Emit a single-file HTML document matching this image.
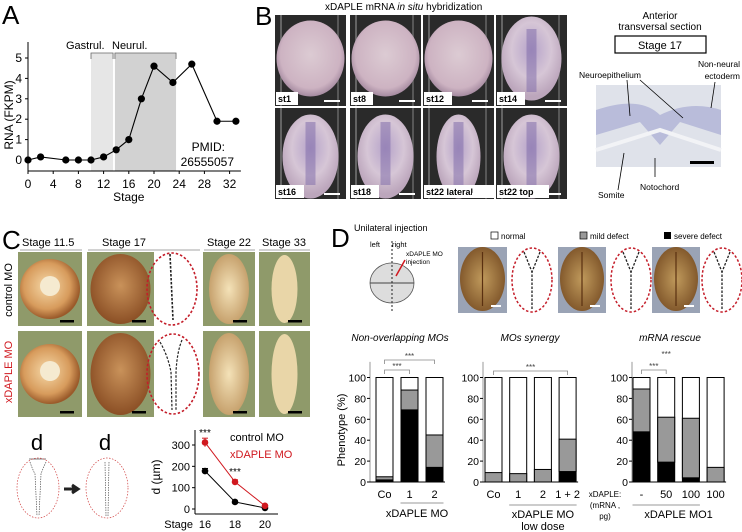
<!DOCTYPE html>
<html><head><meta charset="utf-8"><style>
html,body{margin:0;padding:0;background:#fff}
svg{display:block;font-family:"Liberation Sans",Arial,sans-serif}
</style></head><body>
<svg id="fig" width="742" height="532" viewBox="0 0 742 532">
<defs>
<radialGradient id="pinkEgg" cx="50%" cy="45%" r="55%"><stop offset="0" stop-color="#dccbd3"/><stop offset="0.8" stop-color="#cdb3c2"/><stop offset="1" stop-color="#a58aa0"/></radialGradient>
<radialGradient id="purpEgg" cx="50%" cy="40%" r="55%"><stop offset="0" stop-color="#b5a2c9"/><stop offset="0.6" stop-color="#d6c6d6"/><stop offset="1" stop-color="#bca6bc"/></radialGradient>
<radialGradient id="orEgg" cx="45%" cy="45%" r="55%"><stop offset="0" stop-color="#f6d9a8"/><stop offset="0.7" stop-color="#d79b5c"/><stop offset="1" stop-color="#9a5a2a"/></radialGradient>
<radialGradient id="brEgg" cx="50%" cy="45%" r="55%"><stop offset="0" stop-color="#c9925a"/><stop offset="1" stop-color="#8b4f25"/></radialGradient>
<radialGradient id="tanEgg" cx="50%" cy="50%" r="55%"><stop offset="0" stop-color="#f4e2b8"/><stop offset="1" stop-color="#c29b66"/></radialGradient>
<radialGradient id="dEgg" cx="50%" cy="50%" r="55%"><stop offset="0" stop-color="#c09a5c"/><stop offset="1" stop-color="#7d5328"/></radialGradient>
</defs>

<g>
<text x="2" y="24" font-size="26">A</text>
<g id="chartA"></g>
</g>

<g>
<text x="255" y="25" font-size="26">B</text>
<text x="325" y="10" font-size="10">xDAPLE mRNA <tspan font-style="italic">in situ</tspan> hybridization</text>
<g id="bPhotos"></g>
<text x="660" y="19" font-size="10" text-anchor="middle">Anterior</text>
<text x="660" y="30" font-size="10" text-anchor="middle">transversal section</text>
<rect x="615" y="36" width="91" height="17" fill="#fff" stroke="#000" stroke-width="1.2"/>
<text x="660" y="49" font-size="11" text-anchor="middle">Stage 17</text>
<text x="579" y="78" font-size="8.5">Neuroepithelium</text>
<text x="740" y="67" font-size="8.5" text-anchor="end">Non-neural</text>
<text x="740" y="79" font-size="8.5" text-anchor="end">ectoderm</text>
<rect x="596" y="85" width="125" height="82" fill="#dfe2ea"/>
<path d="M596 110 Q640 95 660 115 Q690 100 721 110 L721 135 L680 122 L660 145 L640 122 L596 135 Z" fill="#a8acd3" opacity="0.7"/>
<path d="M596 150 L660 130 L721 150" stroke="#f2f3f6" stroke-width="4" fill="none"/>
<rect x="690" y="161" width="24" height="3" fill="#000"/>
<g stroke="#000" stroke-width="0.8"><line x1="627" y1="80" x2="630" y2="116"/><line x1="640" y1="80" x2="683" y2="118"/><line x1="715" y1="82" x2="711" y2="108"/><line x1="624" y1="153" x2="618" y2="190"/><line x1="655" y1="158" x2="655" y2="177"/></g>
<text x="598" y="198" font-size="8.5">Somite</text>
<text x="640" y="190" font-size="8.5">Notochord</text>
</g>

<g>
<text x="2" y="249" font-size="26">C</text>
<text x="22" y="246" font-size="11">Stage 11.5</text>
<text x="102" y="246" font-size="11">Stage 17</text>
<text x="207" y="246" font-size="11">Stage 22</text>
<text x="262" y="246" font-size="11">Stage 33</text>
<g stroke="#888" stroke-width="0.8"><line x1="20" y1="250" x2="82" y2="250"/><line x1="88" y1="250" x2="200" y2="250"/><line x1="204" y1="250" x2="255" y2="250"/><line x1="259" y1="250" x2="310" y2="250"/></g>
<text transform="translate(12,290) rotate(-90)" font-size="11" text-anchor="middle">control MO</text>
<text transform="translate(12,372) rotate(-90)" font-size="11" text-anchor="middle" fill="#d0181f">xDAPLE MO</text>
<g id="cPhotos"></g>
<text x="37" y="450" font-size="22" text-anchor="middle">d</text>
<text x="105" y="450" font-size="22" text-anchor="middle">d</text>
<line x1="29" y1="459" x2="46" y2="459" stroke="#555" stroke-width="0.8"/>
<ellipse cx="38" cy="488" rx="21" ry="30" fill="none" stroke="#d04040" stroke-width="0.7" stroke-dasharray="1.5,1.5"/>
<path d="M30 462 Q32 468 35 474 L37 516 M46 462 Q43 468 41 474 L39 516" fill="none" stroke="#555" stroke-width="0.7" stroke-dasharray="1.5,1"/>
<path d="M64 489 L76 489 M72 485 L78 489 L72 493" stroke="#222" stroke-width="3" fill="#222"/>
<ellipse cx="107" cy="488" rx="21" ry="30" fill="none" stroke="#d04040" stroke-width="0.7" stroke-dasharray="1.5,1.5"/>
<path d="M105 462 L106 516 M109 462 L108 516" fill="none" stroke="#555" stroke-width="0.7" stroke-dasharray="1.5,1"/>
<g id="chartC"></g>
</g>

<g>
<text x="331" y="247" font-size="26">D</text>
<text x="354" y="231" font-size="9">Unilateral injection</text>
<text x="370" y="247" font-size="7.5">left</text>
<text x="392" y="247" font-size="7.5">right</text>
<text x="406" y="256" font-size="6.5">xDAPLE MO</text>
<text x="406" y="264" font-size="6.5">injection</text>
<ellipse cx="392" cy="283" rx="22" ry="20" fill="#ddd" stroke="#555" stroke-width="0.8"/>
<line x1="370" y1="283" x2="414" y2="283" stroke="#444"/>
<line x1="392" y1="241" x2="392" y2="312" stroke="#222" stroke-dasharray="2,2"/>
<line x1="405" y1="260" x2="396" y2="276" stroke="#d0181f" stroke-width="1.5"/>
<rect x="491" y="232" width="7" height="7" fill="#fff" stroke="#000" stroke-width="0.7"/>
<text x="501" y="239" font-size="8">normal</text>
<rect x="580" y="232" width="7" height="7" fill="#999" stroke="#000" stroke-width="0.7"/>
<text x="590" y="239" font-size="8">mild defect</text>
<rect x="664" y="232" width="7" height="7" fill="#000"/>
<text x="674" y="239" font-size="8">severe defect</text>
<g id="dPhotos"></g>
<text x="400" y="341" font-size="10" font-style="italic" text-anchor="middle">Non-overlapping MOs</text>
<text x="530" y="341" font-size="10" font-style="italic" text-anchor="middle">MOs synergy</text>
<text x="670" y="341" font-size="10" font-style="italic" text-anchor="middle">mRNA rescue</text>
<text transform="translate(345,430) rotate(-90)" font-size="11" text-anchor="middle">Phenotype (%)</text>
<g id="chartD"></g>
</g>

<script>
const NS="http://www.w3.org/2000/svg";
function mk(parent,tag,attrs,text){const e=document.createElementNS(NS,tag);for(const k in attrs)e.setAttribute(k,attrs[k]);if(text!==undefined)e.textContent=text;parent.appendChild(e);return e;}

const aStages=[0,2,6,8,10,12,14,16,18,20,23,26,30,33];
const aRNA=[0,0.15,0,0,0,0.15,0.5,1,3,4.6,3.8,4.7,1.9,1.9];
const aYTicks=[0,1,2,3,4,5];
const aXTicks=[0,4,8,12,16,20,24,28,32];
(function(){
  const g=document.getElementById('chartA');
  const X=s=>28+s*6.3, Y=v=>160-v*20.4;
  mk(g,'rect',{x:X(10),y:53,width:X(13.5)-X(10),height:118,fill:'#e6e6e6'});
  mk(g,'rect',{x:X(13.8),y:53,width:X(23.5)-X(13.8),height:118,fill:'#d2d2d2'});
  mk(g,'path',{d:`M${X(10)} 59 V53 H${X(13.5)} V59 M${X(13.8)} 59 V53 H${X(23.5)} V59`,stroke:'#666',fill:'none','stroke-width':0.8});
  const t1=mk(g,'text',{x:66,y:49,'font-size':11},'Gastrul.');
  
  
  const t2=mk(g,'text',{x:112,y:49,'font-size':11},'Neurul.');
  
  
  mk(g,'line',{x1:28,y1:42,x2:28,y2:171,stroke:'#000','stroke-width':1});
  mk(g,'line',{x1:28,y1:171,x2:X(33)+5,y2:171,stroke:'#000','stroke-width':1});
  aYTicks.forEach(v=>{mk(g,'line',{x1:25,y1:Y(v),x2:28,y2:Y(v),stroke:'#000'});
    const t=mk(g,'text',{x:22,y:Y(v)+4,'font-size':12,'text-anchor':'end'},String(v));
    
    });
  aXTicks.forEach(v=>{mk(g,'line',{x1:X(v),y1:171,x2:X(v),y2:174,stroke:'#000'});
    const t=mk(g,'text',{x:X(v),y:188,'font-size':12,'text-anchor':'middle'},String(v));
    
    });
  const yl=mk(g,'text',{transform:'translate(13,115) rotate(-90)','font-size':12,'text-anchor':'middle'},'RNA (FKPM)');
  
  
  const xl=mk(g,'text',{x:X(16),y:201,'font-size':12,'text-anchor':'middle'},'Stage');
  
  
  const p1=mk(g,'text',{x:225,y:151,'font-size':12,'text-anchor':'end'},'PMID:');
  
  
  const p2=mk(g,'text',{x:234,y:166,'font-size':12,'text-anchor':'end'},'26555057');
  
  
  const line=mk(g,'polyline',{points:aStages.map((s,i)=>X(s)+','+Y(aRNA[i])).join(' '),fill:'none',stroke:'#000','stroke-width':1.1});
  
  
  aStages.forEach((s,i)=>{const c=mk(g,'circle',{cx:X(s),cy:Y(aRNA[i]),r:3.6,fill:'#000'});
    
    });
})();

(function(){
  const g=document.getElementById('bPhotos');
  const labels=[['st1','st8','st12','st14'],['st16','st18','st22 lateral','st22 top']];
  const xs=[275,350,423,496], ys=[15,108], w=71, h=91;
  labels.forEach((row,r)=>row.forEach((lab,c)=>{
    const x=xs[c],y=ys[r];
    const rr=mk(g,'rect',{x:x,y:y,width:w,height:h,fill:'#2a2a2a'});
    
    
    mk(g,'line',{x1:x+6,y1:y,x2:x+6,y2:y+h,stroke:'#777','stroke-width':1.5});
    mk(g,'line',{x1:x+w-8,y1:y,x2:x+w-8,y2:y+h,stroke:'#666','stroke-width':1.5});
    if(r===0) mk(g,'ellipse',{cx:x+w/2,cy:y+h/2-2,rx:c===3?30:34,ry:c===3?42:38,fill:c===3?'url(#purpEgg)':'url(#pinkEgg)'});
    else mk(g,'ellipse',{cx:x+w/2,cy:y+h/2+3,rx:c===2?22:28,ry:42,fill:'url(#purpEgg)'});
    if(r===1||c===3) mk(g,'rect',{x:x+w/2-5,y:y+14,width:10,height:h-28,fill:'#7b68a8',opacity:0.5});
    mk(g,'rect',{x:x+1,y:y+h-14,width:lab.length*6+4,height:13,fill:'#fff'});
    mk(g,'text',{x:x+3,y:y+h-4,'font-size':9,'font-weight':'bold'},lab);
    mk(g,'rect',{x:x+w-22,y:y+h-6,width:16,height:2,fill:'#fff'});
  }));
})();

(function(){
  const g=document.getElementById('cPhotos');
  const cols=[[18,64],[87,67],[203,52],[259,51]], rows=[[252,74],[331,86]];
  rows.forEach((rw,r)=>cols.forEach((cl,c)=>{
    const rr=mk(g,'rect',{x:cl[0],y:rw[0],width:cl[1],height:rw[1],fill:'#8f9a6a'});
    
    
    const cx=cl[0]+cl[1]/2, cy=rw[0]+rw[1]/2;
    if(c===0){mk(g,'circle',{cx:cx,cy:cy,r:Math.min(cl[1],rw[1])/2-2,fill:'url(#orEgg)'});mk(g,'circle',{cx:cx,cy:cy-3,r:10,fill:'#f5ead0'});}
    else if(c===1) mk(g,'ellipse',{cx:cx,cy:cy,rx:30,ry:rw[1]/2-2,fill:'url(#brEgg)'});
    else if(c===2) mk(g,'ellipse',{cx:cx,cy:cy,rx:20,ry:rw[1]/2-2,fill:'url(#tanEgg)'});
    else mk(g,'ellipse',{cx:cx,cy:cy,rx:13,ry:rw[1]/2-3,fill:'#e9d6a8'});
    mk(g,'rect',{x:cl[0]+cl[1]-22,y:rw[0]+rw[1]-6,width:14,height:2.5,fill:'#000'});
  }));
  mk(g,'ellipse',{cx:172,cy:289,rx:25,ry:36,fill:'none',stroke:'#c41e2a','stroke-width':1.6,'stroke-dasharray':'2.5,2'});
  mk(g,'path',{d:'M170 254 L173 320',stroke:'#222','stroke-width':1.6,fill:'none','stroke-dasharray':'2.5,1.5'});
  mk(g,'ellipse',{cx:173,cy:374,rx:26,ry:40,fill:'none',stroke:'#c41e2a','stroke-width':1.6,'stroke-dasharray':'2.5,2'});
  mk(g,'path',{d:'M160 342 Q168 356 171 372 L172 410 M182 340 Q177 352 176 372 L176 410',stroke:'#222','stroke-width':1.2,fill:'none','stroke-dasharray':'2.5,1.5'});
})();

const cStages=[16,18,20];
const cControl=[178,33,5];
const cXdaple=[312,127,15];
const cErrCtrl=[12,5,3];
const cErrX=[20,10,4];
const cYTicks=[0,100,200,300];
(function(){
  const g=document.getElementById('chartC');
  const X=s=>205+(s-16)*15, Y=v=>509-v*0.2133;
  mk(g,'line',{x1:195,y1:430,x2:195,y2:514,stroke:'#000'});
  mk(g,'line',{x1:195,y1:514,x2:278,y2:514,stroke:'#000'});
  cYTicks.forEach(v=>{mk(g,'line',{x1:192,y1:Y(v),x2:195,y2:Y(v),stroke:'#000'});
    const t=mk(g,'text',{x:190,y:Y(v)+4,'font-size':11,'text-anchor':'end'},String(v));
    
    });
  cStages.forEach(s=>{const t=mk(g,'text',{x:X(s),y:528,'font-size':11,'text-anchor':'middle'},String(s));
    
    });
  const st=mk(g,'text',{x:193,y:528,'font-size':11,'text-anchor':'end'},'Stage');
  
  
  const yt=mk(g,'text',{transform:'translate(160,477) rotate(-90)','font-size':12,'text-anchor':'middle'},'d (µm)');
  
  
  [[cControl,cErrCtrl,'#000','control-mo'],[cXdaple,cErrX,'#d0181f','xdaple-mo']].forEach(([vals,err,col,nm])=>{
    const l=mk(g,'polyline',{points:cStages.map((s,i)=>X(s)+','+Y(vals[i])).join(' '),fill:'none',stroke:col,'stroke-width':1});
    
    
    cStages.forEach((s,i)=>{mk(g,'line',{x1:X(s),x2:X(s),y1:Y(vals[i]-err[i]),y2:Y(vals[i]+err[i]),stroke:col});
      mk(g,'line',{x1:X(s)-3,x2:X(s)+3,y1:Y(vals[i]+err[i]),y2:Y(vals[i]+err[i]),stroke:col});
      const c=mk(g,'circle',{cx:X(s),cy:Y(vals[i]),r:3.3,fill:col});
      
      });
  });
  mk(g,'text',{x:X(16),y:436,'font-size':10,'text-anchor':'middle'},'***');
  mk(g,'text',{x:X(18),y:475,'font-size':10,'text-anchor':'middle'},'***');
  const l1=mk(g,'text',{x:230,y:441,'font-size':11},'control MO');
  
  
  const l2=mk(g,'text',{x:230,y:458,'font-size':11,fill:'#d0181f'},'xDAPLE MO');
  
  
})();

(function(){
  const g=document.getElementById('dPhotos');
  [[458,49],[558,48],[652,48]].forEach(([x,w],i)=>{
    const r=mk(g,'rect',{x:x,y:247,width:w,height:66,fill:'#9aa3b5'});
    
    
    mk(g,'ellipse',{cx:x+w/2,cy:279,rx:w/2-2,ry:32,fill:'url(#dEgg)'});
    mk(g,'line',{x1:x+w/2,y1:252,x2:x+w/2,y2:306,stroke:'#5a3010','stroke-width':1.2});
    mk(g,'rect',{x:x+w-16,y:305,width:10,height:2,fill:'#fff'});
  });
  [[532,280],[631,280],[722,280]].forEach(([cx,cy],i)=>{
    mk(g,'ellipse',{cx:cx,cy:cy,rx:20,ry:32,fill:'none',stroke:'#c41e2a','stroke-width':1.5,'stroke-dasharray':'2.5,2'});
    mk(g,'path',{d:`M${cx-8} 252 L${cx} 272 L${cx} 309 M${cx+8} 252 L${cx} 272`,fill:'none',stroke:'#222','stroke-width':1.3,'stroke-dasharray':'2.5,1.5'});
  });
})();

const d1Cats=['Co','1','2'];
const d1Severe=[2,69,14];
const d1Mild=[3,19,31];
const d2Cats=['Co','1','2','1 + 2'];
const d2Severe=[0,0,0,10];
const d2Mild=[9,8,12,31];
const d3Cats=['-','50','100','100'];
const d3Severe=[48,19,4,0];
const d3Mild=[41,43,57,14];
const dYTicks=[0,20,40,60,80,100];
(function(){
  const g=document.getElementById('chartD');
  const Y=v=>482-v*1.045;
  function chart(ax,firstBar,step,cats,sev,mild,name){
    mk(g,'line',{x1:ax,y1:Y(0),x2:ax,y2:Y(115),stroke:'#999'});
    dYTicks.forEach(v=>{mk(g,'line',{x1:ax-3,y1:Y(v),x2:ax,y2:Y(v),stroke:'#000'});
      const t=mk(g,'text',{x:ax-4,y:Y(v)+4,'font-size':10.5,'text-anchor':'end'},String(v));
      
      });
    const last=firstBar+step*(cats.length-1)+17;
    mk(g,'line',{x1:ax,y1:Y(0),x2:last+2,y2:Y(0),stroke:'#000'});
    cats.forEach((c,i)=>{
      const x=firstBar+i*step;
      const w=mk(g,'rect',{x:x,y:Y(100),width:17,height:Y(0)-Y(100),fill:'#fff',stroke:'#000','stroke-width':1});
      
      
      const m=mk(g,'rect',{x:x,y:Y(sev[i]+mild[i]),width:17,height:Y(sev[i])-Y(sev[i]+mild[i]),fill:'#999',stroke:'#000','stroke-width':1});
      
      
      const s=mk(g,'rect',{x:x,y:Y(sev[i]),width:17,height:Y(0)-Y(sev[i]),fill:'#000'});
      
      
      const t=mk(g,'text',{x:x+8.5,y:498,'font-size':11,'text-anchor':'middle'},c);
      
      
    });
    return (i)=>firstBar+i*step+8.5;
  }
  const c1=chart(370,376,25,d1Cats,d1Severe,d1Mild,'non-overlapping');
  const c2=chart(483,485,24.7,d2Cats,d2Severe,d2Mild,'synergy');
  const c3=chart(632,633,24.7,d3Cats,d3Severe,d3Mild,'rescue');
  function br(xa,xb,y){mk(g,'path',{d:`M${xa} ${y+4} V${y} H${xb} V${y+4}`,fill:'none',stroke:'#888','stroke-width':0.8});
    mk(g,'text',{x:(xa+xb)/2,y:y-1,'font-size':8,'text-anchor':'middle',fill:'#444'},'***');}
  br(c1(0),c1(1),370); br(c1(0),c1(2),360);
  br(c2(0),c2(3),371);
  br(c3(0),c3(1),370);
  mk(g,'text',{x:(c3(0)+c3(2))/2,y:357,'font-size':8,'text-anchor':'middle',fill:'#444'},'***');
  mk(g,'line',{x1:c1(1)-9,y1:503,x2:c1(2)+9,y2:503,stroke:'#999'});
  const x1=mk(g,'text',{x:(c1(1)+c1(2))/2-5,y:517,'font-size':11,'text-anchor':'middle'},'xDAPLE MO');
  
  
  mk(g,'line',{x1:c2(1)-9,y1:505,x2:c2(3)+9,y2:505,stroke:'#999'});
  const x2=mk(g,'text',{x:(c2(1)+c2(3))/2,y:518,'font-size':11,'text-anchor':'middle'},'xDAPLE MO');
  
  
  mk(g,'text',{x:(c2(1)+c2(3))/2,y:530,'font-size':11,'text-anchor':'middle'},'low dose');
  mk(g,'line',{x1:c3(0)-9,y1:505,x2:c3(2)+9,y2:505,stroke:'#999'});
  const x3=mk(g,'text',{x:(c3(0)+c3(3))/2,y:518,'font-size':11,'text-anchor':'middle'},'xDAPLE MO1');
  
  
  mk(g,'text',{x:605,y:497,'font-size':8,'text-anchor':'middle'},'xDAPLE:');
  mk(g,'text',{x:605,y:508,'font-size':8,'text-anchor':'middle'},'(mRNA ,');
  mk(g,'text',{x:605,y:519,'font-size':8,'text-anchor':'middle'},'pg)');
})();
</script>
</svg>
</body></html>
